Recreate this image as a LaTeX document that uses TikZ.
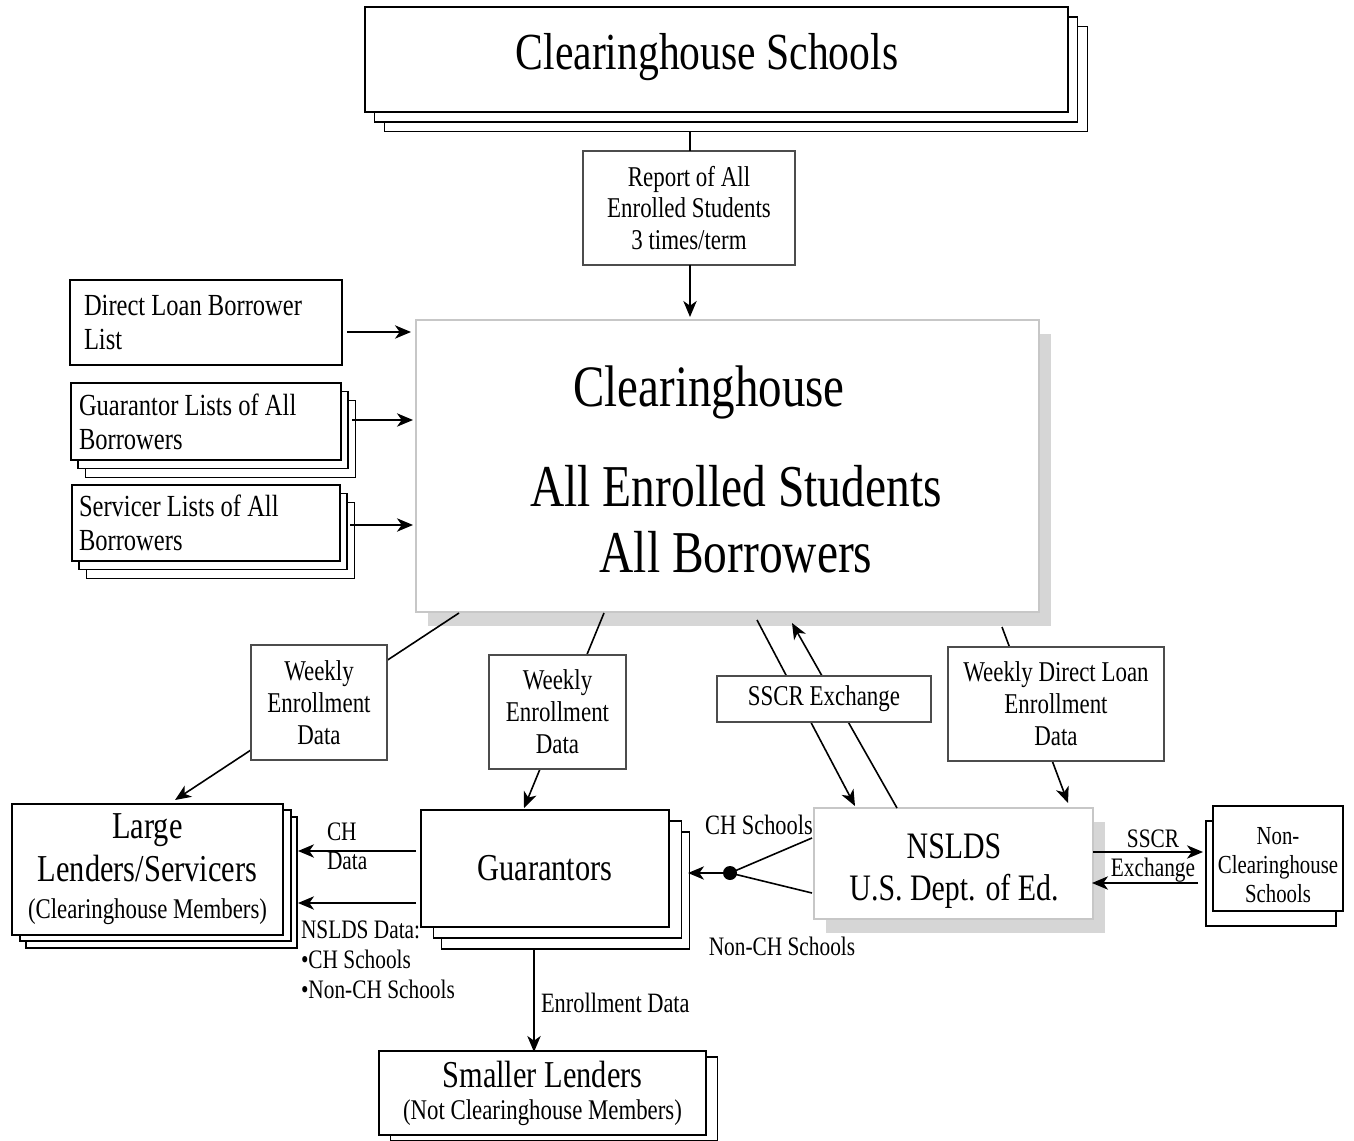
\documentclass[tikz,border=0pt]{standalone}
\usepackage{fontspec}
\setmainfont{Liberation Serif}[FakeStretch=0.8]
\usetikzlibrary{arrows.meta,shadows,calc}
\newcommand\fz[2]{\fontsize{#1}{#2}\selectfont}
\begin{document}
\begin{tikzpicture}[x=0.75pt,y=-0.75pt,
  every node/.style={inner sep=0pt,outer sep=0pt},
  rect/.style n args={4}{minimum width={(#3-(#1))*0.75pt}, minimum height={(#4-(#2))*0.75pt},
     at={(0.5*#1+0.5*#3, 0.5*#2+0.5*#4)}},
  thickbox/.style={draw=black,line width=2.2pt,fill=white},
  thinbox/.style={draw=black,line width=1.2pt,fill=white},
  lblbox/.style={draw=black!70,line width=1.1pt,fill=white,align=center,font=\fz{21.5}{24}},
  greybox/.style={draw=black!22,line width=1.5pt,fill=white,
     drop shadow={shadow xshift=9pt,shadow yshift=-10.5pt,fill=black!16,opacity=1}},
  stk/.style n args={2}{copy shadow={shadow xshift=#1,shadow yshift=#2,draw=black,fill=white,line width=1.1pt}},
  conn/.style={draw=black,line width=1.2pt},
  arr/.style={conn,-{Stealth[length=12pt,width=10pt,inset=3.5pt]}},
]
\useasboundingbox (0,0) rectangle (1354,1141);
\fill[white] (0,0) rectangle (1354,1141);

% ---------- main boxes ----------
\node[thickbox, stk={14.5pt}{-14.5pt}, stk={7pt}{-7.5pt}, rect={365}{7}{1068}{112}] (chs) {};
\node[font=\fz{39}{45}] (chstext) at (707,57) {Clearinghouse Schools};

\node[greybox, rect={416}{320}{1039}{612}] (ch) {};
\node[font=\fz{44}{50}] (chtitle) at (709,392) {Clearinghouse};
\node[align=center, font=\fz{44.5}{49.5}] (chbody) at (736,519) {All Enrolled Students\\All Borrowers};

\node[thickbox, rect={70}{280}{342}{365}, text width=183pt, align=flush left, font=\fz{23}{25.5}] (dl) {Direct Loan Borrower\\List};
\node[thickbox, stk={10.9pt}{-13.1pt}, stk={5.25pt}{-6.4pt}, rect={71}{383}{341}{460}, text width=190.5pt, align=flush left, font=\fz{23}{25.5}] (gl) {Guarantor Lists of All\\Borrowers};
\node[thickbox, stk={10.9pt}{-13.1pt}, stk={5.25pt}{-6.4pt}, rect={72}{485}{340}{561}, text width=190.5pt, align=flush left, font=\fz{23}{25.5}] (sl) {Servicer Lists of All\\Borrowers};

\node[thickbox, stk={10.5pt}{-9.75pt}, stk={6pt}{-4.5pt}, rect={12}{804}{283}{935}, align=center, font=\fz{28.5}{32}] (large) {Large\\Lenders/Servicers\\[-4pt]\fz{21.4}{28}(Clearinghouse Members)};

\node[thickbox, stk={15.4pt}{-16.5pt}, stk={9.4pt}{-8.25pt}, rect={421}{810}{669}{927}, font=\fz{28.5}{32}] (guar) {Guarantors};

\node[greybox, rect={814}{808}{1093}{919}] (nslds) {};
\node[align=center, font=\fz{28}{31.5}] (nsldstext) at (954,871) {NSLDS\\U.S. Dept. of Ed.};

\node[thickbox, stk={-5.25pt}{-11.25pt}, rect={1213}{806}{1343}{911}] (nonch) {};
\node[align=center, font=\fz{19.5}{22}] (nonchtext) at (1278,865) {Non-\\Clearinghouse\\Schools};

\node[thinbox, stk={8.6pt}{-4.5pt}, rect={379}{1051}{706}{1135}, align=center, font=\fz{28.5}{24}] (small) {Smaller Lenders\\\fz{21.4}{24}(Not Clearinghouse Members)};

\node[circle, fill=black, minimum size=10.5pt] (dot) at (730,873) {};

% ---------- connectors passing behind label boxes ----------
\draw[arr] ($(ch.south west)+(43,1)$) -- ($(large.north)+(27.5,-4)$);
\draw[arr] ($(ch.south west)+(188,1)$) -- ($(guar.north)+(-21,-2)$);
\draw[arr] ($(ch.south west)+(341,8)$) -- ($(nslds.north)+(-98.5,-2)$);
\draw[arr] ($(nslds.north)+(-56.5,0)$) -- ($(ch.south west)+(376,11)$);
\draw[arr] ($(ch.south west)+(586,15)$) -- ($(nslds.north)+(114.5,-5)$);

% ---------- label boxes ----------
\node[lblbox, rect={583}{151}{795}{265}, font=\fz{21.5}{23.5}] (rep) {Report of All\\Enrolled Students\\3 times/term};
\node[lblbox, rect={251}{645}{387}{760}] (wl) {Weekly\\Enrollment\\Data};
\node[lblbox, rect={489}{655}{626}{769}] (wm) {Weekly\\Enrollment\\Data};
\node[lblbox, rect={717}{676}{931}{722}] (sscr) {SSCR Exchange};
\node[lblbox, rect={948}{647}{1164}{761}] (wd) {Weekly Direct Loan\\Enrollment\\Data};

% ---------- other connectors ----------
\draw[conn] ($(rep.north)+(1,-19)$) -- ($(rep.north)+(1,0)$);
\draw[arr] ($(rep.south)+(1,0)$) -- ($(rep.south |- ch.north)+(1,-3)$);
\draw[arr] ($(dl.east)+(5,9.5)$) -- ($(dl.east -| ch.west)+(-5,9.5)$);
\draw[arr] ($(gl.east)+(11,-1.5)$) -- ($(gl.east -| ch.west)+(-3,-1.5)$);
\draw[arr] ($(sl.east)+(10,2)$) -- ($(sl.east -| ch.west)+(-3,2)$);

\draw[arr] ($(guar.west)+(-5,-17.5)$) -- ($(guar.west -| large.east)+(15,-17.5)$);
\draw[arr] ($(guar.west)+(-5,34.5)$) -- ($(guar.west -| large.east)+(15,34.5)$);

\draw[arr] (dot.center) -- ($(dot.center -| guar.east)+(19,0)$);
\draw[conn] ($(nslds.west)+(-2,-25.5)$) -- (dot.center);
\draw[conn] ($(nslds.west)+(-2,29.5)$) -- (dot.center);

\draw[arr] ($(nslds.east)+(0,-11.5)$) -- ($(nslds.east -| nonch.west)+(-10,-11.5)$);
\draw[arr] ($(nslds.east -| nonch.west)+(-15,19.5)$) -- ($(nslds.east)+(-1,19.5)$);

\draw[arr] ($(guar.south)+(-11,21)$) -- ($(small.north)+(-8.5,1)$);

% ---------- connector labels ----------
\node[anchor=west, align=left, font=\fz{20}{22}] (chdata) at (327,846) {CH\\Data};
\node[anchor=west, align=left, font=\fz{20}{22.5}] (nsldsdata) at (301,960) {NSLDS Data:\\•CH Schools\\•Non-CH Schools};
\node[font=\fz{21}{24}] (chschools) at (759,825) {CH Schools};
\node[font=\fz{20}{24}] (nonchschools) at (782,946) {Non-CH Schools};
\node[anchor=west, font=\fz{21}{24}] (enrdata) at (541,1003) {Enrollment Data};
\node[align=center, font=\fz{20}{22}] (sscrlabel) at (1153,856) {SSCR\\Exchange};
\end{tikzpicture}
\end{document}
